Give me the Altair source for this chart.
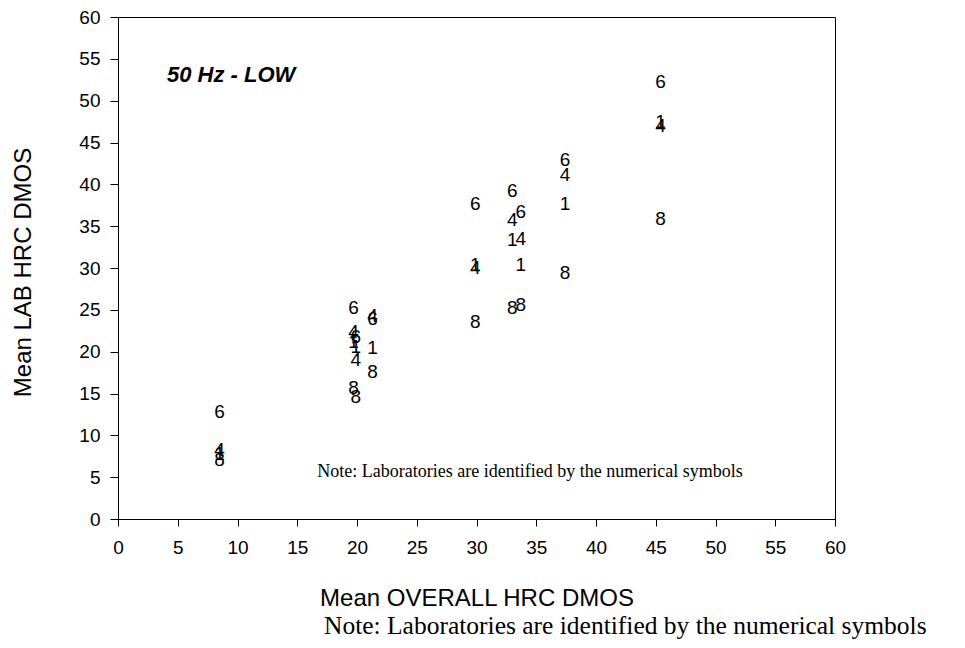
import altair as alt
import pandas as pd

# Mean OVERALL HRC DMOS for each test condition
x_overall = [8.5, 19.7, 19.9, 21.3, 29.9, 33.0, 33.7, 37.4, 45.4]
# Mean LAB HRC DMOS per laboratory (same order as x_overall)
lab1 = [7.8, 21.2, 20.5, 20.4, 30.4, 33.3, 30.3, 37.7, 47.4]
lab4 = [8.2, 22.4, 19.0, 24.3, 30.0, 35.7, 33.5, 41.1, 47.0]
lab6 = [12.8, 25.2, 21.8, 23.9, 37.7, 39.2, 36.7, 42.9, 52.2]
lab8 = [7.0, 15.6, 14.6, 17.6, 23.6, 25.2, 25.6, 29.4, 35.9]
labs = {"1": lab1, "4": lab4, "6": lab6, "8": lab8}
ticks = list(range(0, 61, 5))

rows = []
for name, vals in labs.items():
    for xv, yv in zip(x_overall, vals):
        rows.append({"overall": xv, "lab_dmos": yv, "lab": name})
df = pd.DataFrame(rows)

SANS = "Liberation Sans, Arial, sans-serif"
SERIF = "Liberation Serif, Times New Roman, serif"

W, H = 717, 502

points = alt.Chart(df).mark_text(
    font=SANS, fontSize=19, color="black", align="center", baseline="middle"
).encode(
    x=alt.X("overall:Q", scale=alt.Scale(domain=[0, 60], nice=False, zero=False),
            axis=alt.Axis(values=ticks, title="Mean OVERALL HRC DMOS", tickSize=7,
                          labelPadding=12, titleX=W / 2, titleY=86,
                          titleAlign="center", titleBaseline="alphabetic")),
    y=alt.Y("lab_dmos:Q", scale=alt.Scale(domain=[0, 60], nice=False, zero=False),
            axis=alt.Axis(values=ticks, title="Mean LAB HRC DMOS", tickSize=8,
                          labelPadding=10, titleX=-95, titleY=H / 2 + 4,
                          titleAngle=270, titleAlign="center", titleBaseline="middle")),
    text="lab:N",
)

title_txt = alt.Chart(pd.DataFrame({"t": ["50 Hz - LOW"]})).mark_text(
    font=SANS, fontSize=22, fontWeight="bold", fontStyle="italic", color="black",
    align="left", baseline="alphabetic"
).encode(x=alt.value(49), y=alt.value(65), text="t:N")

note_in = alt.Chart(pd.DataFrame({"t": ["Note: Laboratories are identified by the numerical symbols"]})).mark_text(
    font=SERIF, fontSize=18, color="black", align="center", baseline="alphabetic"
).encode(x=alt.value(412), y=alt.value(460), text="t:N")

note_out = alt.Chart(pd.DataFrame({"t": ["Note: Laboratories are identified by the numerical symbols"]})).mark_text(
    font=SERIF, fontSize=25.5, color="black", align="left", baseline="alphabetic"
).encode(x=alt.value(206), y=alt.value(H + 115), text="t:N")

chart = alt.layer(points, title_txt, note_in, note_out).properties(
    width=W, height=H,
    padding={"left": 110, "top": 9, "right": 122, "bottom": 121},
    autosize=alt.AutoSizeParams(type="none"),
).configure_view(
    stroke="black", strokeWidth=1
).configure_axis(
    grid=False, domainColor="black", tickColor="black", labelColor="black",
    titleColor="black", labelFont=SANS, titleFont=SANS, labelFontSize=19,
    titleFontSize=24, titleFontWeight="normal", labelFlush=False, labelOverlap=False,
    domainWidth=1, tickWidth=1
)

chart.save("out.html", embed_options={"renderer": "svg", "actions": False})
